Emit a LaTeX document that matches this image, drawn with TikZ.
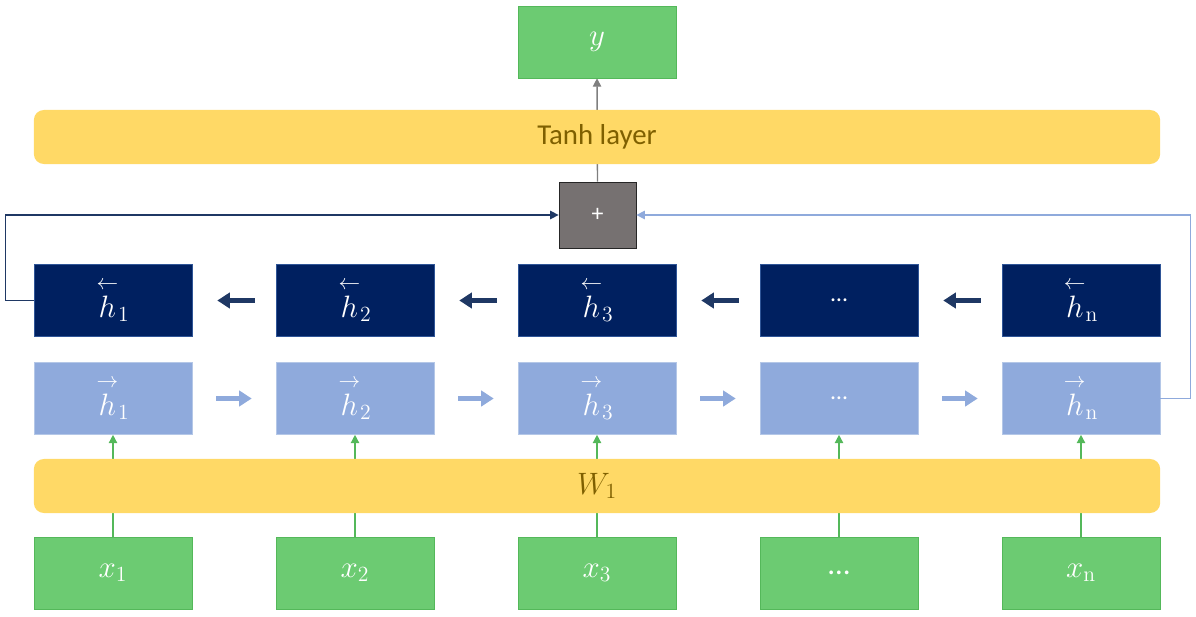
\RequirePackage{fix-cm}
\documentclass[tikz,border=0pt]{standalone}
\usepackage{amsmath}
\usepackage[no-math]{fontspec}
\setmainfont{Carlito}
\usetikzlibrary{arrows.meta, positioning, backgrounds}
\definecolor{navyfill}{RGB}{0, 32, 96}
\definecolor{navyedge}{RGB}{47, 85, 151}
\definecolor{navyline}{RGB}{31, 56, 100}
\definecolor{skyfill}{RGB}{143, 170, 220}
\definecolor{skyedge}{RGB}{180, 199, 231}
\definecolor{leafgreen}{RGB}{108, 203, 114}
\definecolor{leafedge}{RGB}{84, 184, 90}
\definecolor{goldbar}{RGB}{255, 217, 102}
\definecolor{goldtext}{RGB}{127, 96, 0}
\definecolor{sumgray}{RGB}{118, 113, 113}
\definecolor{linegray}{RGB}{127, 127, 127}
\newcommand{\bwd}[1]{\overset{\scriptstyle\leftarrow}{h}_{#1}}
\newcommand{\fwd}[1]{\overset{\scriptstyle\rightarrow}{h}_{#1}}
\tikzset{
  hbwd/.style   = {rectangle, draw=navyedge, fill=navyfill, minimum width=3.95cm, minimum height=1.8cm, text=white, font=\fontsize{22}{26}\selectfont},
  hfwd/.style   = {rectangle, draw=skyedge, fill=skyfill, minimum width=3.95cm, minimum height=1.8cm, text=white, font=\fontsize{22}{26}\selectfont},
  vin/.style    = {rectangle, draw=leafedge, fill=leafgreen, minimum width=3.95cm, minimum height=1.8cm, text=white, font=\fontsize{22}{26}\selectfont},
  layer/.style  = {rectangle, rounded corners=0.25cm, fill=goldbar, minimum width=28.15cm, minimum height=1.35cm, text=goldtext, font=\fontsize{20.5}{24}\selectfont},
  summer/.style = {rectangle, draw=black!85, fill=sumgray, minimum width=1.93cm, minimum height=1.65cm, text=white, font=\fontsize{17}{20}\selectfont},
  stepbwd/.style = {-{Triangle[length=9pt, width=11pt]}, line width=3.4pt, navyline, shorten <=0.525cm, shorten >=0.625cm},
  stepfwd/.style = {-{Triangle[length=9pt, width=11pt]}, line width=3.4pt, skyfill, shorten <=0.6cm, shorten >=0.6cm},
  feed/.style   = {-{Triangle[length=6pt, width=6pt]}, line width=1pt, leafedge},
}

\begin{document}
\begin{tikzpicture}[x=0.025cm, y=-0.025cm]

\useasboundingbox (0,0) rectangle (1196,617);

% ---------- output ----------
\node (y) [vin] at (597, 42) {$y$};
\node (tanh) [layer] at (597, 137) {Tanh layer};
\node (plus) [summer] at (597.5, 215) {+};

% ---------- backward states ----------
\node (hb1) [hbwd] at (113, 300.5) {$\bwd{1}$};
\node (hb2) [hbwd] at (355, 300.5) {$\bwd{2}$};
\node (hb3) [hbwd] at (597, 300.5) {$\bwd{3}$};
\node (hb4) [hbwd, font=\fontsize{17}{20}\selectfont] at (839, 300.5) {\ldots};
\node (hb5) [hbwd] at (1081, 300.5) {$\bwd{\mathrm{n}}$};

% ---------- forward states ----------
\node (hf1) [hfwd] at (113, 398.5) {$\fwd{1}$};
\node (hf2) [hfwd] at (355, 398.5) {$\fwd{2}$};
\node (hf3) [hfwd] at (597, 398.5) {$\fwd{3}$};
\node (hf4) [hfwd, font=\fontsize{17}{20}\selectfont] at (839, 398.5) {\ldots};
\node (hf5) [hfwd] at (1081, 398.5) {$\fwd{\mathrm{n}}$};

% ---------- input ----------
\node (w1) [layer, font=\fontsize{22}{26}\selectfont] at (597, 486) {$W_1$};
\node (x1) [vin] at (113, 573) {$x_1$};
\node (x2) [vin] at (355, 573) {$x_2$};
\node (x3) [vin] at (597, 573) {$x_3$};
\node (x4) [vin] at (839, 573) {\ldots};
\node (x5) [vin] at (1081, 573) {$x_{\mathrm{n}}$};

% ---------- links through the bars ----------
\begin{scope}[on background layer]
    \draw [feed] (x1.north) -- (hf1.south);
    \draw [feed] (x2.north) -- (hf2.south);
    \draw [feed] (x3.north) -- (hf3.south);
    \draw [feed] (x4.north) -- (hf4.south);
    \draw [feed] (x5.north) -- (hf5.south);
    \draw [-{Triangle[length=6pt, width=6pt]}, line width=1pt, linegray] (plus.north) -- (y.south);
\end{scope}

% ---------- recurrences ----------
\draw [stepbwd] (hb2) -- (hb1);
\draw [stepbwd] (hb3) -- (hb2);
\draw [stepbwd] (hb4) -- (hb3);
\draw [stepbwd] (hb5) -- (hb4);
\draw [stepfwd] (hf1) -- (hf2);
\draw [stepfwd] (hf2) -- (hf3);
\draw [stepfwd] (hf3) -- (hf4);
\draw [stepfwd] (hf4) -- (hf5);

% ---------- final states -> sum ----------
\draw [-{Triangle[length=6pt, width=6pt]}, line width=1pt, navyline] (hb1.west) -- ++(-28,0) |- (plus.west);
\draw [-{Triangle[length=6pt, width=6pt]}, line width=1pt, skyfill] (hf5.east) -- ++(30,0) |- (plus.east);

\end{tikzpicture}
\end{document}
